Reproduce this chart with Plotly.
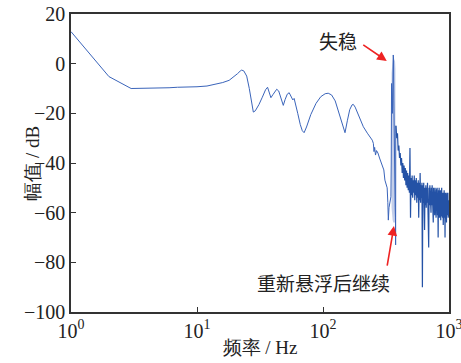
import plotly.graph_objects as go

# ---------------- data ----------------
smooth_f = [1, 2, 3, 4, 5, 6, 7, 8, 9, 10, 12, 14, 16, 18, 20, 21, 22, 22.6, 23.5, 24.8,
            26, 27, 28, 29, 31, 33, 35, 36.3, 37.5, 38.6, 40, 42.9, 44.5, 46, 48.4, 50,
            52, 53.9, 55.5, 57.6, 59, 61, 63, 66, 68.5, 70.8, 74, 80, 88, 96, 104, 110,
            117, 125, 133, 141, 149.5, 156, 163, 170, 174, 180, 192, 209, 225, 237, 246,
            251, 254, 257, 261, 266, 273, 281, 293, 304, 310, 318, 323, 327, 330, 334,
            339, 343, 346]
smooth_db = [12.9, -5.2, -10.0, -10.0, -9.9, -9.7, -9.5, -9.5, -9.4, -9.3, -9.0, -8.4, -7.6,
             -6.7, -5.0, -4.0, -3.0, -2.6, -2.9, -5.0, -10.0, -15.0, -19.5, -19.0, -16.5,
             -13.5, -10.5, -9.5, -11.5, -13.7, -12.5, -10.3, -11.0, -13.5, -16.8, -14.5,
             -12.3, -11.7, -13.0, -14.6, -14.0, -16.5, -20.0, -24.5, -27.0, -27.8, -25.5,
             -20.5, -16.0, -13.3, -12.1, -11.9, -12.6, -15.0, -19.5, -24.5, -27.8, -23.0,
             -18.5, -16.6, -16.4, -17.5, -21.0, -25.4, -28.0, -29.4, -30.8, -32.1, -35.4,
             -33.7, -36.8, -35.0, -36.0, -38.0, -41.0, -42.8, -46.9, -49.0, -50.0, -56.0,
             -63.0, -58.0, -56.0, -54.0, -53.6]

unstable_f = [348, 350, 352, 354, 356, 358, 361, 363, 365, 368, 371, 374, 376, 377, 378, 379]
unstable_db = [-40, -8, -18, -13, -20, -2, 3.5, 1.5, -15, -40, -28, -58, -62, -73, -28, -25]

band_f = [350, 353, 357, 361, 365, 369, 373, 376]
band_hi = [-4, 0, 1.5, 3.5, 2, 1.5, 1, -2]
band_lo = [-58, -62, -63, -64, -64, -64, -64, -62]

noise_f = [380, 385, 390, 395, 400, 405, 410, 415, 420, 425, 430, 435, 440, 445, 450,
           455, 460, 465, 470, 475, 480, 485, 490, 495, 500, 505, 510, 515, 520, 525,
           530, 535, 540, 545, 550, 555, 560, 565, 570, 575, 580, 585, 590, 595, 600,
           605, 610, 615, 620, 625, 630, 635, 640, 645, 650, 655, 660, 665, 670, 675,
           680, 685, 690, 695, 700, 705, 710, 715, 720, 725, 730, 735, 740, 745, 750,
           755, 760, 765, 770, 775, 780, 785, 790, 795, 800, 805, 810, 815, 820, 825,
           830, 835, 840, 845, 850, 855, 860, 865, 870, 875, 880, 885, 890, 895, 900,
           905, 910, 915, 920, 925, 930, 935, 940, 945, 950, 955, 960, 965, 970, 975,
           980, 985, 990, 995, 1000]
noise_db = [-26, -30, -28, -35, -33, -38, -36, -41, -38, -44, -40, -46, -41, -47, -42,
            -49, -43, -50, -44, -51, -45, -52, -34, -62, -46, -53, -45, -54, -47, -52,
            -45, -55, -47, -53, -46, -56, -48, -54, -47, -62, -48, -55, -44, -56, -49,
            -54, -48, -90, -49, -56, -48, -58, -67, -50, -57, -49, -58, -50, -56, -48,
            -59, -51, -74, -50, -57, -49, -58, -51, -60, -50, -57, -49, -60, -52, -64,
            -50, -58, -51, -61, -50, -59, -52, -62, -51, -58, -50, -61, -52, -70, -51,
            -59, -50, -62, -52, -60, -51, -63, -53, -59, -50, -61, -53, -62, -52, -65,
            -54, -60, -51, -62, -53, -70, -52, -61, -54, -60, -64, -52, -61, -55, -59,
            -52, -62, -54, -60, -55]

x_tickvals = [1, 10, 100, 1000]
x_ticktext = ["10<sup>0</sup>", "10<sup>1</sup>", "10<sup>2</sup>", "10<sup>3</sup>"]
y_tickvals = [-100, -80, -60, -40, -20, 0, 20]

label_unstable = "失稳"
label_resume = "重新悬浮后继续"
x_title = "频率 / Hz"
y_title = "幅值 / dB"

# ---------------- figure ----------------
freq_a = smooth_f + unstable_f
mag_a = smooth_db + unstable_db
freq_b = [unstable_f[-1]] + noise_f
mag_b = [unstable_db[-1]] + noise_db

line_color = "#3a64ba"
noise_color = "#2452a6"
band_color = "rgba(190,202,232,0.9)"
axis_color = "#333333"
serif = "Liberation Serif"
cjk = "Noto Sans CJK SC"

fig = go.Figure()
fig.add_trace(go.Scatter(x=band_f, y=band_lo, mode="lines", line=dict(width=0, color=band_color),
                         showlegend=False, hoverinfo="skip"))
fig.add_trace(go.Scatter(x=band_f, y=band_hi, mode="lines", line=dict(width=0, color=band_color),
                         fill="tonexty", fillcolor=band_color, showlegend=False, hoverinfo="skip"))
fig.add_trace(go.Scatter(x=freq_a, y=mag_a, mode="lines", line=dict(width=1, color=line_color),
                         showlegend=False))
fig.add_trace(go.Scatter(x=freq_b, y=mag_b, mode="lines", line=dict(width=1.2, color=noise_color),
                         showlegend=False))

axis_common = dict(showline=True, linecolor=axis_color, linewidth=1.5, mirror=True,
                   ticks="inside", ticklen=5, tickwidth=1.3, tickcolor=axis_color,
                   showgrid=False, zeroline=False, automargin=False,
                   ticklabeloverflow="allow",
                   tickfont=dict(family=serif, size=20, color="#222222"))

fig.update_xaxes(type="log", range=[0, 3], tickvals=x_tickvals, ticktext=x_ticktext,
                 title=dict(text=x_title, font=dict(family=serif, size=19, color="#222222"),
                            standoff=0),
                 **axis_common)
fig.update_yaxes(range=[-100, 20], tickvals=y_tickvals, **axis_common)

# y-axis title placed as rotated text left of the tick labels
fig.add_annotation(x=-0.137, y=0.5, xref="paper", yref="paper", text=y_title, textangle=-90,
                   showarrow=False, font=dict(family=serif, size=19, color="#222222"))

red = "#ee2222"
fig.add_annotation(x=2.506, y=1.1, xref="x", yref="y", ax=-25, ay=-17, axref="pixel",
                   ayref="pixel", text="", showarrow=True, arrowhead=2, arrowsize=1.2,
                   arrowwidth=1.6, arrowcolor=red)
fig.add_annotation(x=2.119, y=9.5, xref="x", yref="y", text=label_unstable, showarrow=False,
                   font=dict(family=cjk, size=19, color="#222222"))
fig.add_annotation(x=2.563, y=-65.4, xref="x", yref="y", ax=-7, ay=41, axref="pixel",
                   ayref="pixel", text="", showarrow=True, arrowhead=2, arrowsize=1.2,
                   arrowwidth=1.6, arrowcolor=red)
fig.add_annotation(x=2.0, y=-88.3, xref="x", yref="y", text=label_resume, showarrow=False,
                   font=dict(family=cjk, size=19, color="#222222"))

fig.update_layout(width=461, height=363, margin=dict(l=71, r=12, t=14, b=51),
                  plot_bgcolor="white", paper_bgcolor="white")

fig.write_html("out.html")
